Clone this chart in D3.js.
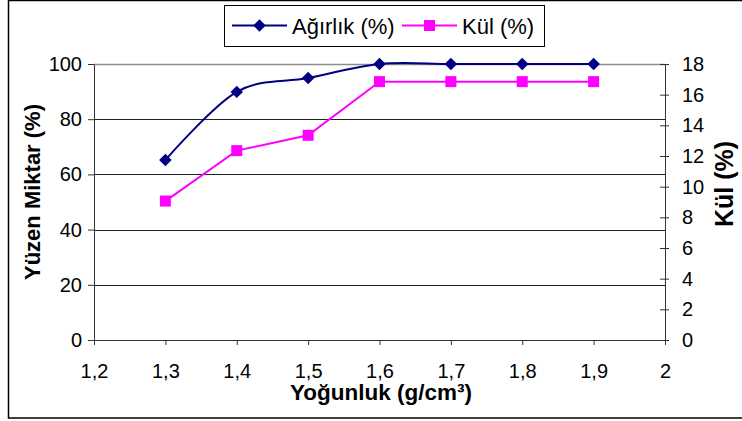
<!DOCTYPE html>
<html>
<head>
<meta charset="utf-8">
<script src="https://cdn.jsdelivr.net/npm/d3@7"></script>
<style>
  html, body { margin: 0; padding: 0; background: #fff; }
  svg { display: block; }
  text { font-family: "Liberation Sans", Arimo, Arial, sans-serif; fill: #000; }
</style>
</head>
<body>
<svg id="chart" width="742" height="421"></svg>
<script>
// Density classes (g/cm³)
const densities = [1.3, 1.4, 1.5, 1.6, 1.7, 1.8, 1.9];
// Floating weight (%) – left axis
const weightPct = [65.2, 89.9, 94.9, 100, 100, 100, 100];
// Ash content (%) – right axis
const ashPct = [9.06, 12.35, 13.35, 16.85, 16.85, 16.85, 16.85];

const xTicks = [1.2, 1.3, 1.4, 1.5, 1.6, 1.7, 1.8, 1.9, 2.0];
const leftTicks = [0, 20, 40, 60, 80, 100];
const rightTicks = [0, 2, 4, 6, 8, 10, 12, 14, 16, 18];

const seriesNames = ["Ağırlık (%)", "Kül (%)"];
const seriesColors = ["#000080", "#FF00FF"];

const svg = d3.select("#chart");

const plot = { left: 94, right: 665, top: 64, bottom: 340 };

const x = d3.scaleLinear().domain([1.2, 2.0]).range([plot.left, plot.right]);
const yL = d3.scaleLinear().domain([0, 100]).range([plot.bottom, plot.top]);
const yR = d3.scaleLinear().domain([0, 18]).range([plot.bottom, plot.top]);

const fmt = d => d3.format(".1f")(d).replace(/\.0$/, "").replace(".", ",");

// Outer chart frame
svg.append("rect")
  .attr("x", 8.5).attr("y", 0.5)
  .attr("width", 760).attr("height", 417.5)
  .attr("fill", "none").attr("stroke", "#000").attr("stroke-width", 1.5);

// Horizontal gridlines
svg.append("g")
  .selectAll("line")
  .data(leftTicks.filter(d => d > 0 && d < 100))
  .join("line")
  .attr("x1", plot.left).attr("x2", plot.right)
  .attr("y1", d => Math.round(yL(d)) + 0.5).attr("y2", d => Math.round(yL(d)) + 0.5)
  .attr("stroke", "#222").attr("stroke-width", 1);

// Plot area top border
svg.append("line")
  .attr("x1", plot.left).attr("x2", plot.right)
  .attr("y1", plot.top + 0.5).attr("y2", plot.top + 0.5)
  .attr("stroke", "#8c8c8c").attr("stroke-width", 1.5);

function styleAxis(g) {
  g.attr("font-family", null).attr("font-size", null);
  g.selectAll(".domain").attr("stroke", "#333");
  g.selectAll(".tick line").attr("stroke", "#333");
  g.selectAll("text").style("font-size", "20px").attr("fill", "#000");
}

// Bottom axis
svg.append("g")
  .attr("transform", `translate(0,${plot.bottom})`)
  .call(d3.axisBottom(x).tickValues(xTicks).tickFormat(fmt).tickSize(5).tickSizeOuter(0).tickPadding(19))
  .call(styleAxis);

// Left axis
svg.append("g")
  .attr("transform", `translate(${plot.left},0)`)
  .call(d3.axisLeft(yL).tickValues(leftTicks).tickFormat(d3.format("d")).tickSize(6).tickSizeOuter(0).tickPadding(6))
  .call(styleAxis);

// Left axis extends slightly below the baseline
svg.append("line")
  .attr("x1", plot.left + 0.5).attr("x2", plot.left + 0.5)
  .attr("y1", plot.bottom).attr("y2", plot.bottom + 5)
  .attr("stroke", "#333");

// Right axis with crossing ticks
const rightAxis = svg.append("g")
  .attr("transform", `translate(${plot.right},0)`)
  .call(d3.axisRight(yR).tickValues(rightTicks).tickFormat(d3.format("d")).tickSize(4).tickSizeOuter(0).tickPadding(14))
  .call(styleAxis);
rightAxis.selectAll(".tick line").attr("x1", -5).attr("x2", 4);
rightAxis.selectAll(".tick text").attr("x", 17);

// Axis titles
svg.append("text")
  .attr("x", 381).attr("y", 400)
  .attr("text-anchor", "middle")
  .style("font-size", "22.5px").style("font-weight", "bold")
  .text("Yoğunluk (g/cm³)");

svg.append("text")
  .attr("transform", "translate(40,192) rotate(-90)")
  .attr("text-anchor", "middle")
  .style("font-size", "22px").style("font-weight", "bold")
  .text("Yüzen Miktar (%)");

svg.append("text")
  .attr("transform", "translate(733,184) rotate(-90)")
  .attr("text-anchor", "middle")
  .style("font-size", "25px").style("font-weight", "bold")
  .text("Kül (%)");

// Series lines
const weightData = densities.map((d, i) => [d, weightPct[i]]);
const ashData = densities.map((d, i) => [d, ashPct[i]]);

svg.append("path")
  .datum(weightData)
  .attr("fill", "none").attr("stroke", seriesColors[0]).attr("stroke-width", 2)
  .attr("d", d3.line().x(d => x(d[0])).y(d => yL(d[1])).curve(d3.curveCardinal.tension(0)));

svg.append("path")
  .datum(ashData)
  .attr("fill", "none").attr("stroke", seriesColors[1]).attr("stroke-width", 2)
  .attr("d", d3.line().x(d => x(d[0])).y(d => yR(d[1])));

// Markers
const diamond = d3.symbol().type(d3.symbolSquare).size(78);
svg.append("g")
  .selectAll("path")
  .data(weightData)
  .join("path")
  .attr("d", diamond)
  .attr("transform", d => `translate(${x(d[0])},${yL(d[1])}) rotate(45)`)
  .attr("fill", seriesColors[0]);

svg.append("g")
  .selectAll("rect")
  .data(ashData)
  .join("rect")
  .attr("x", d => x(d[0]) - 5.5).attr("y", d => yR(d[1]) - 5.5)
  .attr("width", 11).attr("height", 11)
  .attr("fill", seriesColors[1]);

// Legend
const legend = svg.append("g");
legend.append("rect")
  .attr("x", 224.5).attr("y", 5.5).attr("width", 320).attr("height", 41)
  .attr("fill", "#fff").attr("stroke", "#000").attr("stroke-width", 1);

const legendItems = [
  { name: seriesNames[0], color: seriesColors[0], x0: 232, x1: 287, tx: 292, marker: "diamond" },
  { name: seriesNames[1], color: seriesColors[1], x0: 402, x1: 457, tx: 462, marker: "square" }
];
const ly = 25.5;
legendItems.forEach(it => {
  legend.append("line")
    .attr("x1", it.x0).attr("x2", it.x1).attr("y1", ly).attr("y2", ly)
    .attr("stroke", it.color).attr("stroke-width", 2);
  const cx = (it.x0 + it.x1) / 2;
  if (it.marker === "diamond") {
    legend.append("path").attr("d", diamond)
      .attr("transform", `translate(${cx},${ly}) rotate(45)`)
      .attr("fill", it.color);
  } else {
    legend.append("rect")
      .attr("x", cx - 5.5).attr("y", ly - 5.5).attr("width", 11).attr("height", 11)
      .attr("fill", it.color);
  }
  legend.append("text")
    .attr("x", it.tx).attr("y", ly + 8)
    .style("font-size", "22px")
    .text(it.name);
});
</script>
</body>
</html>
